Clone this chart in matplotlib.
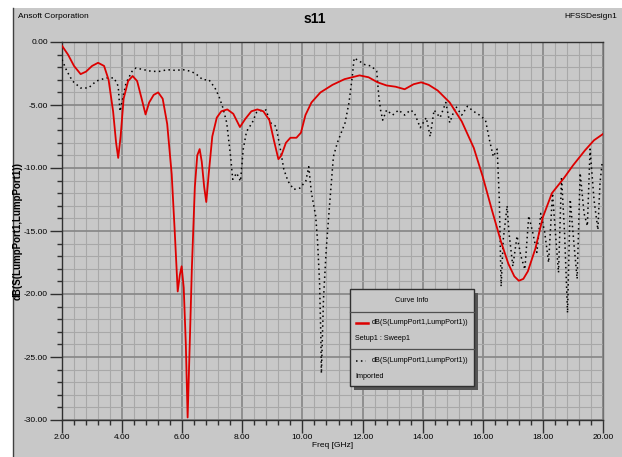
import matplotlib
matplotlib.use("Agg")
import matplotlib.pyplot as plt
from matplotlib.patches import Rectangle
from matplotlib.lines import Line2D
from matplotlib.ticker import MultipleLocator, FormatStrFormatter

# no Arial Narrow here, so Liberation Sans at small sizes
plt.rcParams['font.family'] = ['Liberation Sans', 'DejaVu Sans']

# simulated curve (Setup1 : Sweep1)
sim_freq = [2.0, 2.2, 2.4, 2.62, 2.8, 3.0, 3.2, 3.4, 3.55, 3.7, 3.8, 3.87, 3.95, 4.05, 4.2,
            4.35, 4.5, 4.65, 4.78, 4.9, 5.05, 5.2, 5.35, 5.5, 5.65, 5.75, 5.85, 5.92, 5.98,
            6.05, 6.12, 6.18, 6.25, 6.32, 6.42, 6.5, 6.58, 6.65, 6.73, 6.8, 6.88, 7.0, 7.15,
            7.3, 7.5, 7.7, 7.92, 8.1, 8.3, 8.5, 8.7, 8.9, 9.05, 9.2, 9.3, 9.45, 9.6, 9.8,
            9.95, 10.1, 10.3, 10.6, 11.0, 11.4, 11.9, 12.2, 12.5, 12.8, 13.1, 13.4, 13.7,
            13.95, 14.2, 14.5, 14.9, 15.3, 15.7, 16.0, 16.3, 16.6, 16.85, 17.05, 17.2, 17.35,
            17.5, 17.75, 18.0, 18.3, 18.7, 19.0, 19.4, 19.7, 20.0]
sim_db = [-0.3, -1.0, -1.9, -2.55, -2.35, -1.9, -1.65, -1.9, -3.0, -5.5, -8.0, -9.2, -7.5, -4.5, -3.1,
          -2.7, -3.1, -4.5, -5.75, -4.8, -4.2, -4.0, -4.5, -6.5, -10.5, -15.0, -19.8, -18.5, -17.8,
          -19.5, -24.0, -29.8, -24.0, -18.0, -11.5, -9.0, -8.5, -9.5, -11.5, -12.7, -10.5, -7.5, -6.0,
          -5.5, -5.35, -5.7, -6.75, -6.1, -5.5, -5.35, -5.5, -6.2, -7.8, -9.3, -9.0, -8.0, -7.6, -7.6,
          -7.2, -5.8, -4.8, -4.0, -3.4, -2.95, -2.65, -2.8, -3.2, -3.45, -3.55, -3.75, -3.35,
          -3.2, -3.4, -3.85, -4.8, -6.3, -8.4, -10.7, -13.3, -15.8, -17.6, -18.6, -18.95, -18.8,
          -18.2, -16.4, -13.9, -12.0, -10.8, -9.8, -8.6, -7.8, -7.3]

# imported (measured) curve
meas_freq = [2.0, 2.16, 2.35, 2.62, 2.88, 3.14, 3.47, 3.73, 3.87, 3.93, 4.13, 4.33, 4.46, 4.72,
             4.98, 5.25, 5.5, 5.77, 6.03, 6.3, 6.49, 6.69, 6.89, 7.09, 7.22, 7.35, 7.48, 7.61,
             7.68, 7.81, 7.94, 8.03, 8.14, 8.33, 8.47, 8.66, 8.79, 8.93, 9.12, 9.25, 9.38, 9.52,
             9.71, 9.91, 10.11, 10.21, 10.3, 10.44, 10.5, 10.57, 10.61, 10.63, 10.7, 10.79, 10.9,
             11.03, 11.16, 11.29, 11.42, 11.55, 11.66, 11.72, 11.88, 12.08, 12.28, 12.47, 12.54,
             12.6, 12.67, 12.8, 13.0, 13.2, 13.4, 13.59, 13.72, 13.92, 14.12, 14.25, 14.38, 14.58,
             14.77, 14.9, 15.1, 15.3, 15.49, 15.69, 15.89, 16.09, 16.22, 16.35, 16.48, 16.55,
             16.61, 16.68, 16.81, 16.87, 17.0, 17.14, 17.27, 17.4, 17.53, 17.66, 17.8, 17.93,
             18.06, 18.19, 18.32, 18.45, 18.52, 18.62, 18.72, 18.82, 18.91, 19.04, 19.14, 19.24,
             19.37, 19.48, 19.57, 19.7, 19.83, 19.9, 19.97]
meas_db = [-1.4, -2.3, -3.1, -3.65, -3.65, -3.1, -2.85, -2.85, -3.5, -5.5, -3.25, -2.33, -2.06, -2.2,
           -2.33, -2.33, -2.2, -2.25, -2.2, -2.33, -2.6, -3.0, -3.0, -3.65, -4.3, -5.2, -6.4, -9.1,
           -10.9, -10.4, -11.05, -8.5, -7.1, -6.4, -5.6, -5.4, -5.4, -6.4, -6.7, -8.3, -10.1, -11.05,
           -11.7, -11.6, -11.05, -9.9, -12.0, -13.8, -15.7, -19.1, -23.1, -26.3, -20.4, -16.5, -13.0,
           -9.1, -8.0, -7.2, -6.4, -4.8, -2.7, -1.27, -1.5, -1.8, -1.9, -2.3, -4.3,
           -5.4, -6.2, -5.4, -5.8, -5.4, -5.8, -5.4, -5.6, -6.8, -6.0, -7.5, -5.4, -6.0,
           -4.8, -6.4, -5.1, -5.8, -5.1, -5.5, -5.8, -6.2, -7.75, -9.1, -8.5, -12.5,
           -19.4, -15.7, -13.0, -15.1, -17.8, -15.4, -17.0, -18.05, -13.8, -15.1, -16.7, -13.6,
           -15.1, -17.5, -12.0, -16.2, -18.3, -10.7, -15.1, -21.5, -12.5, -16.2, -18.8, -10.4,
           -13.6, -14.6, -8.5, -12.5, -14.9, -11.2, -9.6]

W, H = 622, 457
gray = '#c8c8c8'


def fx(px):
    return px / W


def fy(py):
    return 1 - py / H


fig = plt.figure(figsize=(6.22, 4.57), dpi=100, facecolor='white')

# gray panel behind everything
fig.patches.append(Rectangle((fx(13), 0), 1 - fx(13), fy(8), transform=fig.transFigure,
                             facecolor=gray, edgecolor='none', zorder=-5))
fig.lines.append(Line2D([fx(13), fx(13)], [0, fy(8)], transform=fig.transFigure,
                        color='#404040', lw=1.0, zorder=-4))

ax = fig.add_axes([fx(62), fy(420), fx(603) - fx(62), fy(42) - fy(420)])
ax.set_facecolor(gray)

ax.plot(meas_freq, meas_db, color='black', lw=1.1, linestyle=(0, (1, 2.2)), zorder=3)
ax.plot(sim_freq, sim_db, color='#dd0000', lw=1.3, zorder=4)

ax.set_xlim(2, 20)
ax.set_ylim(-30, 0)
ax.xaxis.set_major_locator(MultipleLocator(2))
ax.xaxis.set_minor_locator(MultipleLocator(0.4))
ax.yaxis.set_major_locator(MultipleLocator(5))
ax.yaxis.set_minor_locator(MultipleLocator(1))
ax.xaxis.set_major_formatter(FormatStrFormatter('%.2f'))
ax.yaxis.set_major_formatter(FormatStrFormatter('%.2f'))
ax.grid(which='major', color='#8a8a8a', lw=1.3)
ax.grid(which='minor', color='#a8a8a8', lw=0.8)
ax.set_axisbelow(True)
ax.tick_params(which='major', direction='out', length=9, width=1, color='#303030',
               labelsize=6, pad=1)
ax.tick_params(which='minor', direction='out', length=3.6, width=1, color='#303030')
for s in ax.spines.values():
    s.set_color('#303030')
    s.set_linewidth(1.0)
ax.spines['right'].set_color('#707070')

ax.set_xlabel('Freq [GHz]', fontsize=6, labelpad=1)
ax.set_ylabel('dB(S(LumpPort1,LumpPort1))', fontsize=7, fontweight='bold')
ax.yaxis.set_label_coords((23 - 62) / 541, 0.5)

fig.text(fx(18), fy(17), 'Ansoft Corporation', fontsize=6, va='center', ha='left')
fig.text(fx(315), fy(19), 's11', fontsize=10, fontweight='bold', va='center', ha='center')
fig.text(fx(617), fy(17), 'HFSSDesign1', fontsize=6, va='center', ha='right')

# legend box "Curve Info"
lx0, lx1, ly0, ly1 = 350, 474, 289, 386
fig.patches.append(Rectangle((fx(lx0 + 4), fy(ly1 + 4)), fx(lx1) - fx(lx0), fy(ly0) - fy(ly1),
                             transform=fig.transFigure, facecolor='#555555',
                             edgecolor='none', zorder=5))
fig.patches.append(Rectangle((fx(lx0), fy(ly1)), fx(lx1) - fx(lx0), fy(ly0) - fy(ly1),
                             transform=fig.transFigure, facecolor=gray,
                             edgecolor='#303030', lw=1.0, zorder=6))
for yy in (312, 349):
    fig.lines.append(Line2D([fx(lx0), fx(lx1)], [fy(yy), fy(yy)], transform=fig.transFigure,
                            color='#505050', lw=0.9, zorder=7))
fig.lines.append(Line2D([fx(356), fx(368)], [fy(323), fy(323)], transform=fig.transFigure,
                        color='#dd0000', lw=1.8, zorder=7))
fig.lines.append(Line2D([fx(356), fx(366)], [fy(361), fy(361)], transform=fig.transFigure,
                        color='black', lw=1.1, linestyle=(0, (1, 2.2)), zorder=7))
lfs = 5.2
fig.text(fx((lx0 + lx1) / 2), fy(300), 'Curve Info', fontsize=lfs, ha='center', va='center', zorder=8)
fig.text(fx(372), fy(323), 'dB(S(LumpPort1,LumpPort1))', fontsize=lfs, ha='left', va='center', zorder=8)
fig.text(fx(355), fy(339), 'Setup1 : Sweep1', fontsize=lfs, ha='left', va='center', zorder=8)
fig.text(fx(372), fy(361), 'dB(S(LumpPort1,LumpPort1))', fontsize=lfs, ha='left', va='center', zorder=8)
fig.text(fx(355), fy(377), 'Imported', fontsize=lfs, ha='left', va='center', zorder=8)

fig.savefig('out.png', dpi=100, facecolor='white')
